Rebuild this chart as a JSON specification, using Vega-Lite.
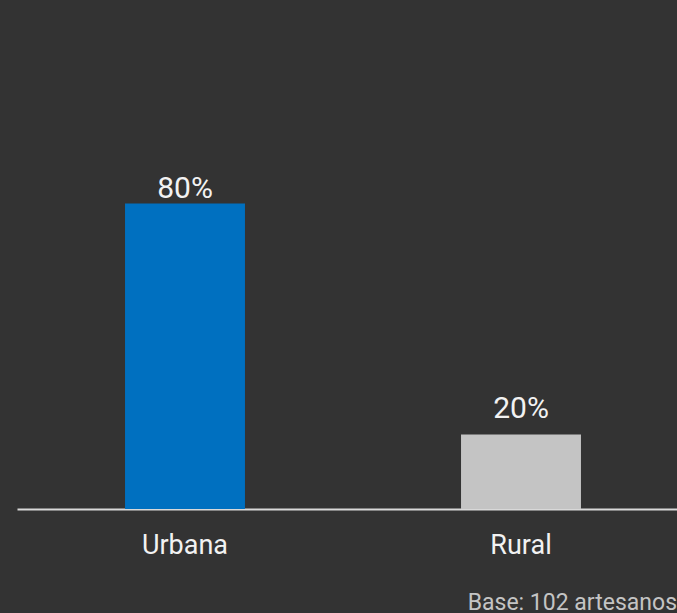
{
  "$schema": "https://vega.github.io/schema/vega-lite/v6.json",
  "description": "Artesanos por zona: Urbana y Rural.",
  "autosize": {"type": "none"},
  "width": 659,
  "height": 380,
  "padding": {"left": 18, "top": 129, "right": 0, "bottom": 104},
  "background": "#333333",
  "config": {
    "view": {"stroke": null},
    "font": "Roboto"
  },
  "title": {
    "text": "Base: 102 artesanos",
    "orient": "bottom",
    "anchor": "end",
    "frame": "group",
    "align": "right",
    "fontSize": 23,
    "fontWeight": "normal",
    "color": "#c4c4c4",
    "font": "Roboto",
    "offset": 34
  },
  "data": {
    "values": [
      {"zona": "Urbana", "pct": 0.804},
      {"zona": "Rural", "pct": 0.196}
    ]
  },
  "encoding": {
    "x": {
      "field": "zona",
      "type": "nominal",
      "sort": null,
      "scale": {"range": [-1, 671], "paddingInner": 0.643, "paddingOuter": 0.3215},
      "axis": {
        "title": null,
        "ticks": false,
        "grid": false,
        "domainColor": "#d9d9d9",
        "domainWidth": 2,
        "labelAngle": 0,
        "labelFontSize": 27,
        "labelFontWeight": "normal",
        "labelColor": "#f2f2f2",
        "labelBaseline": "alphabetic",
        "labelPadding": 44
      }
    },
    "y": {
      "field": "pct",
      "type": "quantitative",
      "scale": {"domain": [0, 1]},
      "axis": null
    }
  },
  "layer": [
    {
      "mark": {"type": "bar"},
      "encoding": {
        "color": {
          "field": "zona",
          "type": "nominal",
          "scale": {"domain": ["Urbana", "Rural"], "range": ["#0070c0", "#c4c4c4"]},
          "legend": null
        }
      }
    },
    {
      "transform": [{"filter": "datum.zona === 'Urbana'"}],
      "mark": {"type": "text", "baseline": "alphabetic", "dy": -5, "fontSize": 30, "color": "#f2f2f2"},
      "encoding": {"text": {"field": "pct", "type": "quantitative", "format": ".0%"}}
    },
    {
      "transform": [{"filter": "datum.zona === 'Rural'"}],
      "mark": {"type": "text", "baseline": "alphabetic", "dy": -17, "fontSize": 30, "color": "#f2f2f2"},
      "encoding": {"text": {"field": "pct", "type": "quantitative", "format": ".0%"}}
    }
  ]
}
